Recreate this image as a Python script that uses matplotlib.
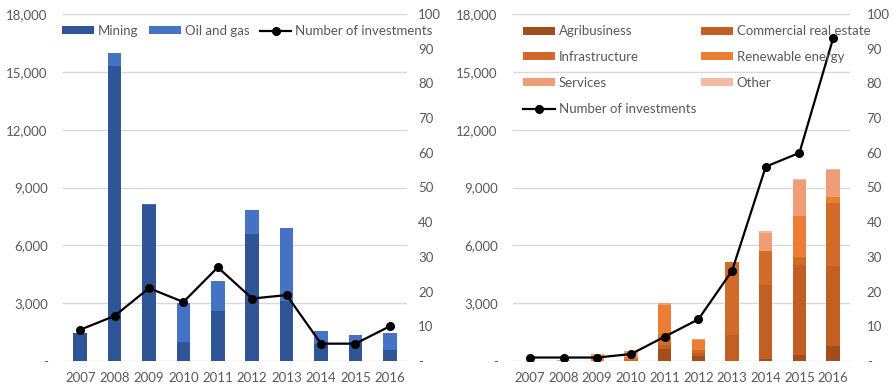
import matplotlib
matplotlib.use('Agg')
import matplotlib.pyplot as plt
import numpy as np
from matplotlib.ticker import FuncFormatter

plt.rcParams['font.family'] = ['Lato', 'DejaVu Sans']
plt.rcParams['font.size'] = 9

years = ['2007', '2008', '2009', '2010', '2011', '2012', '2013', '2014', '2015', '2016']

# left panel: extractive sectors (US$ m) and deal count
mining = [1450, 15300, 8100, 1000, 2600, 6600, 3100, 900, 1000, 570]
oil_gas = [0, 700, 50, 2000, 1550, 1250, 3800, 650, 350, 880]
deals_left = [9, 13, 21, 17, 27, 18, 19, 5, 5, 10]

# right panel: other sectors (US$ m) and deal count
agribusiness = [0, 0, 0, 0, 620, 250, 0, 80, 300, 800]
commercial = [0, 0, 0, 0, 200, 150, 1340, 3840, 4700, 4150]
infrastructure = [0, 0, 0, 100, 500, 150, 3790, 1810, 400, 3250]
renewable = [0, 0, 200, 120, 1560, 550, 0, 0, 2100, 300]
services = [0, 60, 150, 300, 150, 20, 0, 900, 1900, 1400]
other = [20, 0, 0, 0, 0, 0, 0, 100, 20, 40]
deals_right = [1, 1, 1, 2, 7, 12, 26, 56, 60, 93]

TEXT = '#595959'
GRID = '#d9d9d9'


def left_fmt(v, _):
    return '-' if v == 0 else f'{int(v):,}'


def right_fmt(v, _):
    return '-' if v == 0 else f'{int(v)}'


def style_axes(ax, ax2, lpad, rpad):
    ax.set_xlim(-0.5, len(years) - 0.5)
    ax.set_ylim(0, 18000)
    ax.set_yticks(np.arange(0, 18001, 3000))
    ax.yaxis.set_major_formatter(FuncFormatter(left_fmt))
    ax.set_xticks(range(len(years)))
    ax.set_xticklabels(years)
    ax.grid(axis='y', color=GRID, linewidth=1)
    ax.set_axisbelow(True)
    ax2.set_ylim(0, 100)
    ax2.set_yticks(np.arange(0, 101, 10))
    ax2.yaxis.set_major_formatter(FuncFormatter(right_fmt))
    for a in (ax, ax2):
        for s in a.spines.values():
            s.set_visible(False)
        a.tick_params(length=0, colors=TEXT, labelsize=9.5)
    ax.tick_params(axis='y', pad=lpad)
    ax.tick_params(axis='x', pad=8)
    ax2.tick_params(axis='y', pad=rpad)


fig = plt.figure(figsize=(8.94, 3.91), dpi=100)

x = np.arange(len(years))
w = 0.4

# left panel
ax = fig.add_axes([63 / 894, 30 / 391, 344 / 894, 347 / 391])
ax2 = ax.twinx()
b1 = ax.bar(x, mining, w, color='#2f5597', label='Mining')
b2 = ax.bar(x, oil_gas, w, bottom=mining, color='#4472c4', label='Oil and gas')
l1, = ax2.plot(x, deals_left, color='black', linewidth=1.6, marker='o', markersize=5.5,
               label='Number of investments')
style_axes(ax, ax2, 11, 8)
fig.legend(handles=[b1, b2, l1], loc='center left', bbox_to_anchor=(57 / 894, 1 - 31 / 391),
           ncol=3, frameon=False, handlelength=2.4, handleheight=0.55, handletextpad=0.3,
           columnspacing=0.8, labelcolor=TEXT, fontsize=9.5, borderaxespad=0)

# right panel
bx = fig.add_axes([513 / 894, 30 / 391, 337 / 894, 347 / 391])
bx2 = bx.twinx()
stack = [
    (agribusiness, '#a24e1c', 'Agribusiness'),
    (commercial, '#c25f23', 'Commercial real estate'),
    (infrastructure, '#d26b29', 'Infrastructure'),
    (renewable, '#ec7d35', 'Renewable energy'),
    (services, '#ee9d77', 'Services'),
    (other, '#f3baa4', 'Other'),
]
bottom = np.zeros(len(years))
bars = []
for vals, col, name in stack:
    bars.append(bx.bar(x, vals, w, bottom=bottom, color=col, label=name))
    bottom += np.array(vals)
l2, = bx2.plot(x, deals_right, color='black', linewidth=1.6, marker='o', markersize=5.5,
               label='Number of investments')
style_axes(bx, bx2, 11, 12)
handles = [bars[0], bars[2], bars[4], l2, bars[1], bars[3], bars[5]]
fig.legend(handles=handles, loc='upper left', bbox_to_anchor=(518 / 894, 1 - 20 / 391),
           ncol=2, frameon=False, handlelength=2.4, handleheight=0.55, handletextpad=0.3,
           columnspacing=0.35, labelspacing=1.05, labelcolor=TEXT, fontsize=9.5, borderaxespad=0)

fig.savefig('out.png', dpi=100)
